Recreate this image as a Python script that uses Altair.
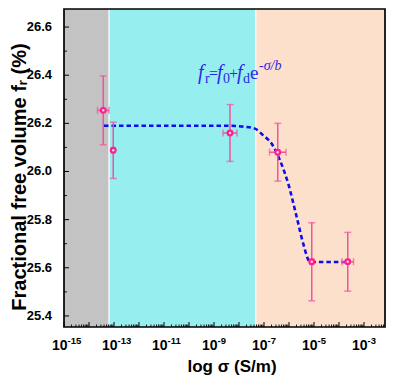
import altair as alt
import pandas as pd

# ---- data ----
pt_logsig = [-13.43, -13.03, -8.36, -6.45, -5.09, -3.65]
pt_fr = [26.254, 26.088, 26.160, 26.080, 25.625, 25.625]
pt_fr_err = [0.143, 0.117, 0.118, 0.120, 0.162, 0.122]
pt_logsig_err = [0.23, 0.05, 0.28, 0.33, 0.08, 0.23]

fit_logsig = [-13.40, -10.0, -8.4, -7.8, -7.36, -7.03, -6.69, -6.36, -6.03, -5.69, -5.43, -5.16, -4.8, -3.63]
fit_fr = [26.190, 26.190, 26.190, 26.186, 26.178, 26.150, 26.115, 26.046, 25.949, 25.810, 25.700, 25.625, 25.624, 25.624]

band_start = [-15.0, -13.2, -7.33]
band_end = [-13.2, -7.33, -2.16]
band_color = ["#c3c3c3", "#97eeee", "#fde0cc"]

x_label_exp = [-15, -13, -11, -9, -7, -5, -3]
y_major = [25.4, 25.6, 25.8, 26.0, 26.2, 26.4, 26.6]
y_minor = [25.5, 25.7, 25.9, 26.1, 26.3, 26.5]

W, H = 321, 318
X0, Y0 = 64, 9  # image position of plot origin

def px(x):
    return x - X0

def py(y):
    return y - Y0

xs = alt.Scale(type="log", domain=[1e-15, 10 ** -2.16], nice=False)
ys = alt.Scale(domain=[25.354, 26.675], nice=False, zero=False)

pts = pd.DataFrame({
    "sig": [10 ** v for v in pt_logsig],
    "lo": [10 ** (v - e) for v, e in zip(pt_logsig, pt_logsig_err)],
    "hi": [10 ** (v + e) for v, e in zip(pt_logsig, pt_logsig_err)],
    "fr": pt_fr,
    "flo": [f - e for f, e in zip(pt_fr, pt_fr_err)],
    "fhi": [f + e for f, e in zip(pt_fr, pt_fr_err)],
})
fit = pd.DataFrame({"sig": [10 ** v for v in fit_logsig], "fr": fit_fr})
bands = pd.DataFrame({
    "a": [10 ** v for v in band_start],
    "b": [10 ** v for v in band_end],
    "c": band_color,
})
bounds = pd.DataFrame({"sig": [10 ** v for v in band_end[:2]]})
one = pd.DataFrame({"k": [0]})

dec = pd.DataFrame({"sig": [10.0 ** e for e in range(-15, -2)]})
minor = pd.DataFrame({"sig": [m * 10.0 ** e for e in range(-15, -2) for m in range(2, 10)
                              if m * 10.0 ** e <= 10 ** -2.16]})
xlab = pd.DataFrame({"sig": [10.0 ** e for e in x_label_exp],
                     "ex": [("-" + str(-e)) for e in x_label_exp]})
ymaj = pd.DataFrame({"v": y_major, "t": [f"{v:.1f}" for v in y_major]})
ymin = pd.DataFrame({"v": y_minor})

PINK = "#ff1f8f"
EPINK = "#f0559b"
BLUE = "#0c0cf0"
TBLUE = "#2a2ae6"
SANS = "Liberation Sans, Arial"
SERIF = "Liberation Serif, Times New Roman"

band_layer = alt.Chart(bands).mark_rect().encode(
    x=alt.X("a:Q", scale=xs, axis=None), x2="b:Q",
    y=alt.value(0), y2=alt.value(H),
    color=alt.Color("c:N", scale=None, legend=None))
bound_layer = alt.Chart(bounds).mark_rule(color="white", strokeWidth=1.2).encode(
    x=alt.X("sig:Q", scale=xs, axis=None), y=alt.value(0), y2=alt.value(H))

fit_layer = alt.Chart(fit).mark_line(color=BLUE, strokeWidth=2.6, strokeDash=[4.5, 3],
                                     interpolate="monotone").encode(
    x=alt.X("sig:Q", scale=xs, axis=None), y=alt.Y("fr:Q", scale=ys, axis=None))

ey = alt.Chart(pts).mark_rule(color=EPINK, strokeWidth=1.5).encode(
    x=alt.X("sig:Q", scale=xs, axis=None), y=alt.Y("flo:Q", scale=ys, axis=None), y2="fhi:Q")
ex = alt.Chart(pts).mark_rule(color=EPINK, strokeWidth=1.5).encode(
    x=alt.X("lo:Q", scale=xs, axis=None), x2="hi:Q", y=alt.Y("fr:Q", scale=ys, axis=None))
cap_lo = alt.Chart(pts).mark_tick(color=EPINK, orient="horizontal", size=7, thickness=1.5).encode(
    x=alt.X("sig:Q", scale=xs, axis=None), y=alt.Y("flo:Q", scale=ys, axis=None))
cap_hi = alt.Chart(pts).mark_tick(color=EPINK, orient="horizontal", size=7, thickness=1.5).encode(
    x=alt.X("sig:Q", scale=xs, axis=None), y=alt.Y("fhi:Q", scale=ys, axis=None))
capx_lo = alt.Chart(pts).mark_tick(color=EPINK, orient="vertical", size=7, thickness=1.5).encode(
    x=alt.X("lo:Q", scale=xs, axis=None), y=alt.Y("fr:Q", scale=ys, axis=None))
capx_hi = alt.Chart(pts).mark_tick(color=EPINK, orient="vertical", size=7, thickness=1.5).encode(
    x=alt.X("hi:Q", scale=xs, axis=None), y=alt.Y("fr:Q", scale=ys, axis=None))
dots = alt.Chart(pts).mark_point(shape="circle", filled=True, color=PINK, size=48, opacity=1).encode(
    x=alt.X("sig:Q", scale=xs, axis=None), y=alt.Y("fr:Q", scale=ys, axis=None))
dots_c = alt.Chart(pts).mark_point(shape="circle", filled=True, color="#ffd0e6", size=6, opacity=1).encode(
    x=alt.X("sig:Q", scale=xs, axis=None), y=alt.Y("fr:Q", scale=ys, axis=None))

# ticks (inward)
xt_major = alt.Chart(dec).mark_rule(color="black", strokeWidth=1).encode(
    x=alt.X("sig:Q", scale=xs, axis=None), y=alt.value(H), y2=alt.value(H - 5))
xt_minor = alt.Chart(minor).mark_rule(color="black", strokeWidth=0.9).encode(
    x=alt.X("sig:Q", scale=xs, axis=None), y=alt.value(H), y2=alt.value(H - 2.5))
yt_major = alt.Chart(ymaj).mark_rule(color="black", strokeWidth=1).encode(
    y=alt.Y("v:Q", scale=ys, axis=None), x=alt.value(0), x2=alt.value(5))
yt_minor = alt.Chart(ymin).mark_rule(color="black", strokeWidth=0.9).encode(
    y=alt.Y("v:Q", scale=ys, axis=None), x=alt.value(0), x2=alt.value(3))

frame = alt.Chart(one).mark_rect(filled=False, stroke="black", strokeWidth=1.7).encode(
    x=alt.value(0), x2=alt.value(W), y=alt.value(0), y2=alt.value(H))

# tick labels
xl10 = alt.Chart(xlab).mark_text(text="10", font=SANS, fontWeight="bold", fontSize=14,
                                 align="right", baseline="alphabetic", dx=3.5, color="black").encode(
    x=alt.X("sig:Q", scale=xs, axis=None), y=alt.value(py(350)))
xlex = alt.Chart(xlab).mark_text(font=SANS, fontWeight="bold", fontSize=9.5,
                                 align="left", baseline="alphabetic", dx=3.5, color="black").encode(
    x=alt.X("sig:Q", scale=xs, axis=None), y=alt.value(py(344)), text="ex:N")
ylab = alt.Chart(ymaj).mark_text(font=SANS, fontWeight="bold", fontSize=13,
                                 align="right", baseline="middle", color="black").encode(
    y=alt.Y("v:Q", scale=ys, axis=None), x=alt.value(px(52)), text="t:N")

xtitle = alt.Chart(one).mark_text(text="log σ (S/m)", font=SANS, fontWeight="bold", fontSize=17,
                                  align="center", baseline="alphabetic", color="black").encode(
    x=alt.value(px(232)), y=alt.value(py(372)))
ytitle = alt.Chart(one).mark_text(text="Fractional free volume fᵣ (%)", font=SANS,
                                  fontWeight="bold", fontSize=20, angle=270,
                                  align="center", baseline="alphabetic", color="black").encode(
    x=alt.value(px(26)), y=alt.value(py(177)))

# annotation
def ann(t, x, y, size, italic):
    return alt.Chart(one).mark_text(text=t, font=SERIF, fontSize=size,
                                    fontStyle="italic" if italic else "normal",
                                    align="left", baseline="alphabetic", color=TBLUE).encode(
        x=alt.value(px(x)), y=alt.value(py(y)))

annot = [
    ann("f", 198, 79, 20, True),
    ann("r", 205, 83, 14, False),
    ann("=", 209, 79, 16, False),
    ann("f", 217, 79, 20, True),
    ann("0", 223, 83, 14, False),
    ann("+", 229, 79, 16, False),
    ann("f", 237, 79, 20, True),
    ann("d", 243, 83, 14, False),
    ann("e", 250, 79, 19, False),
    ann("-σ/b", 259, 70, 14, True),
]

chart = alt.layer(
    band_layer, bound_layer, fit_layer, ey, ex, cap_lo, cap_hi, capx_lo, capx_hi, dots, dots_c,
    xt_major, xt_minor, yt_major, yt_minor, frame, xl10, xlex, ylab, xtitle, ytitle, *annot
).properties(
    width=W, height=H,
    autosize=alt.AutoSizeParams(type="none"),
    padding={"left": 56, "top": 1, "right": 1, "bottom": 50},
).configure_view(strokeWidth=0)

chart.save("out.html", embed_options={"renderer": "svg", "actions": False})
